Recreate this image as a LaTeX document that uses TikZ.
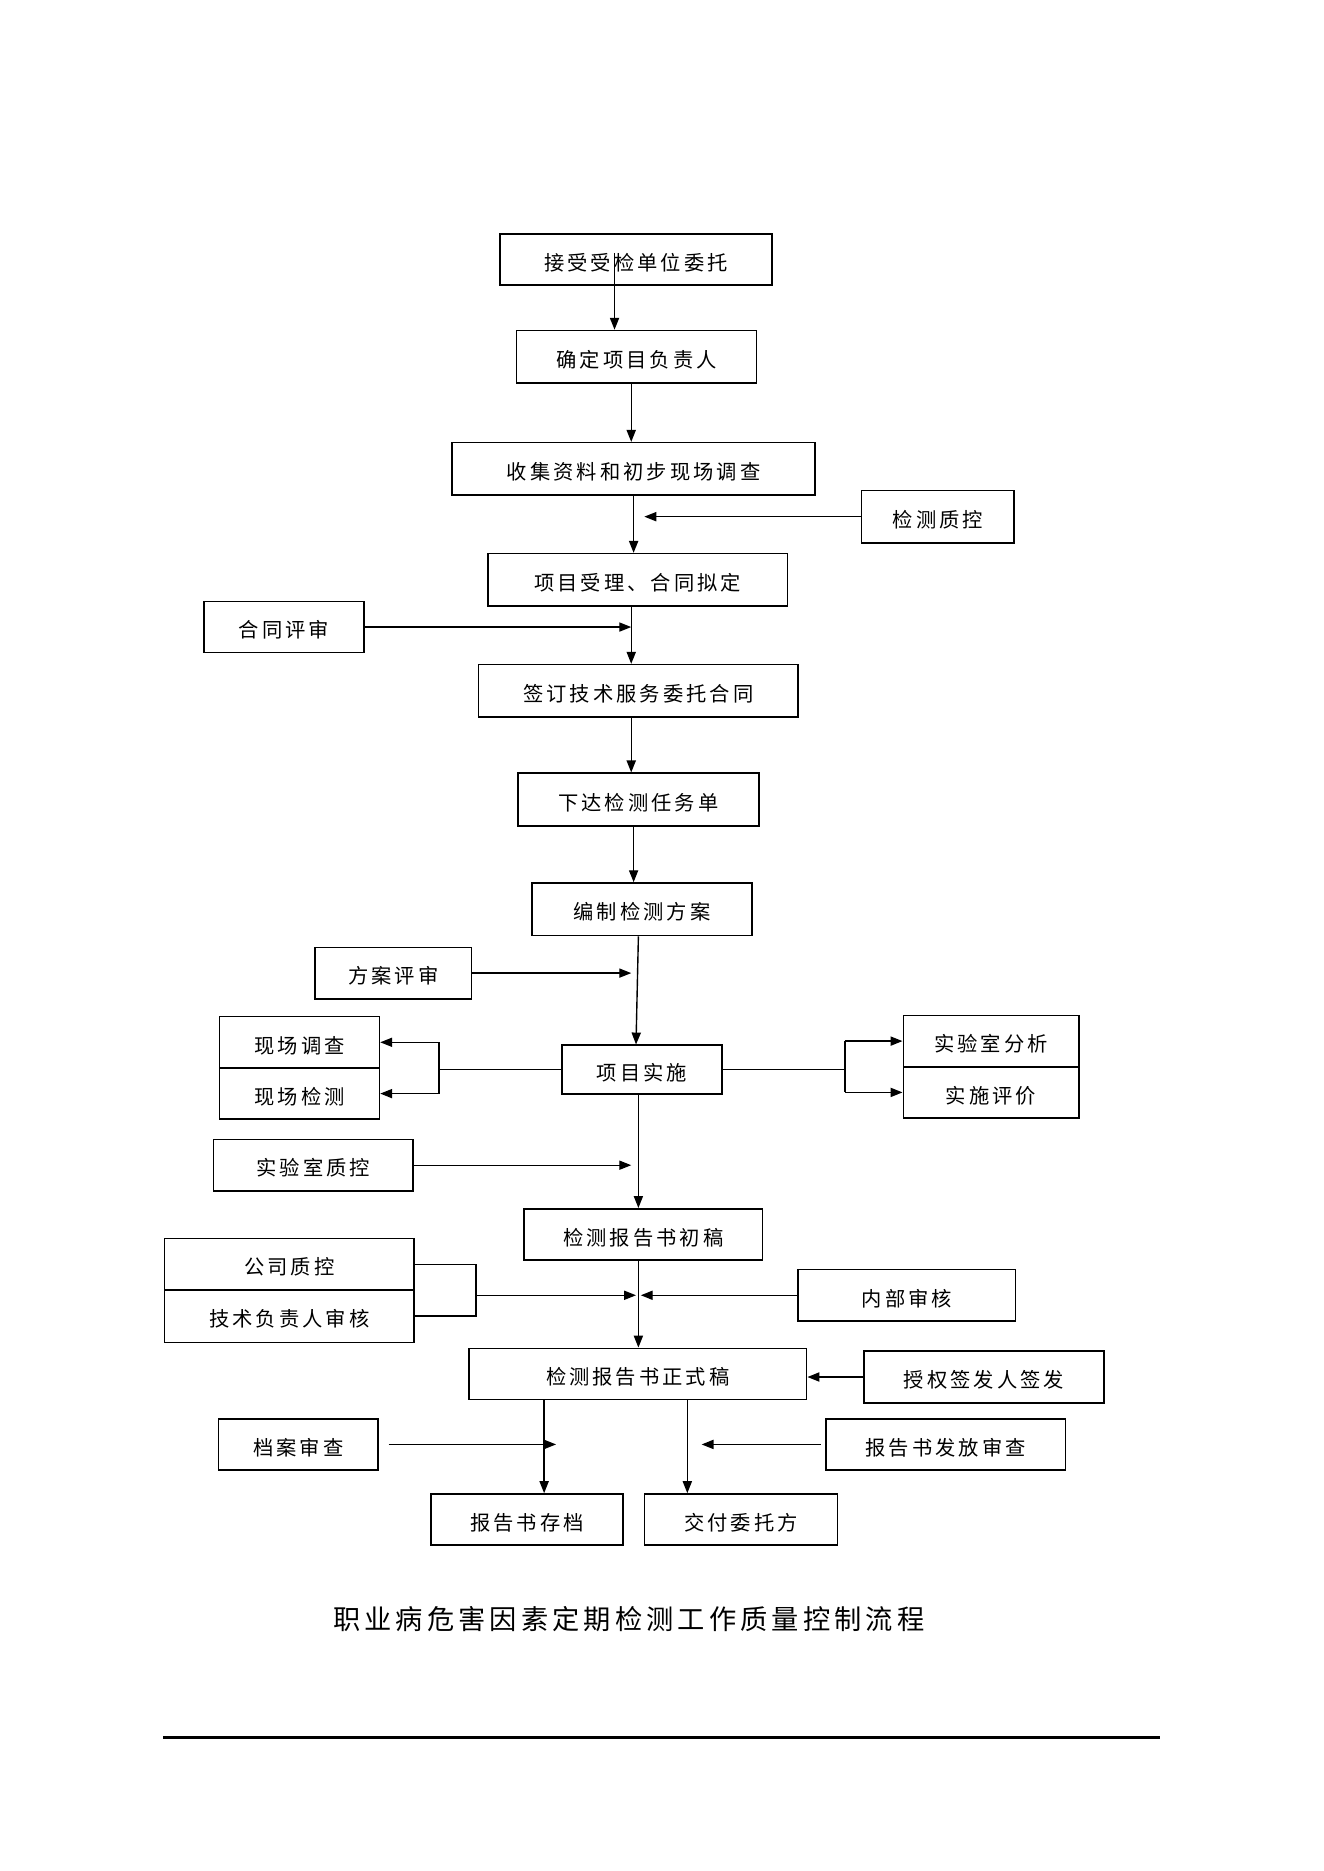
\documentclass[tikz,border=0pt]{standalone}
\usepackage{fontspec}
\newfontfamily\cjk{Noto Sans CJK SC}[LetterSpace=15]
\usetikzlibrary{arrows.meta,positioning}
\tikzset{
  box/.style={draw=black, line width=0.8pt, inner sep=0pt, text height=12pt, text depth=1.2pt,
    font=\cjk\fontsize{10.2}{12}\selectfont},
  wh/.style 2 args={minimum width=#1*0.6pt, minimum height=#2*0.6pt},
  arr/.style={line width=0.7pt, -{Triangle[length=6pt,width=4.6pt]}},
  ln/.style={line width=0.7pt},
}
\begin{document}
\begin{tikzpicture}[x=0.6pt,y=-0.6pt]
\useasboundingbox (0,0) rectangle (1109,1568);
% boxes
\node[box,wh={228}{43}] (b1) at (533,217.5) {接受受检单位委托};
\node[box,wh={201}{44}] (b2) at (533.5,299) {确定项目负责人};
\node[box,wh={304}{44}] (b3) at (531,393) {收集资料和初步现场调查};
\node[box,wh={128}{44}] (qc) at (786,433) {检测质控};
\node[box,wh={251}{44}] (b4) at (534.5,486) {项目受理、合同拟定};
\node[box,wh={134}{43}] (ht) at (238,525.5) {合同评审};
\node[box,wh={268}{44}] (b5) at (535,579) {签订技术服务委托合同};
\node[box,wh={202}{44}] (b6) at (535,670) {下达检测任务单};
\node[box,wh={184}{44}] (b7) at (538,762) {编制检测方案};
\node[box,wh={131}{43}] (fa) at (329.5,815.5) {方案评审};
\node[box,wh={134}{41}] (ss) at (538,896.5) {项目实施};
\node[box,wh={134}{43}] (xd) at (251,873.5) {现场调查};
\node[box,wh={134}{43}] (xj) at (251,916.5) {现场检测};
\node[box,wh={147}{43}] (sy) at (830.5,872.5) {实验室分析};
\node[box,wh={147}{43}] (sp) at (830.5,915.5) {实施评价};
\node[box,wh={167}{43}] (zk) at (262.5,976.5) {实验室质控};
\node[box,wh={200}{43}] (cg) at (539,1034.5) {检测报告书初稿};
\node[box,wh={209}{43}] (gs) at (242.5,1059.5) {公司质控};
\node[box,wh={209}{44}] (js) at (242.5,1103) {技术负责人审核};
\node[box,wh={182}{43}] (nb) at (760,1085.5) {内部审核};
\node[box,wh={283}{43}] (zs) at (534.5,1151.5) {检测报告书正式稿};
\node[box,wh={201}{44}] (sq) at (824.5,1154) {授权签发人签发};
\node[box,wh={134}{43}] (da) at (250,1210.5) {档案审查};
\node[box,wh={201}{43}] (ff) at (792.5,1210.5) {报告书发放审查};
\node[box,wh={161}{43}] (cd) at (441.5,1273.5) {报告书存档};
\node[box,wh={162}{43}] (jf) at (621,1273.5) {交付委托方};
% title
\node[font=\cjk\fontsize{13.7}{16}\selectfont, inner sep=0pt] (title) at (527,1357) {职业病危害因素定期检测工作质量控制流程};
% helper x-positions
\coordinate (c1) at (515,212);
\coordinate (x529) at (529,0);
\coordinate (x531) at (531,0);
\coordinate (x533) at (533,0);
\coordinate (x535) at (535,0);
\coordinate (x537) at (537,0);
\coordinate (x540) at (540,0);
\coordinate (x368) at (368,0);
\coordinate (x399) at (399,0);
\coordinate (x708) at (708,0);
\coordinate (x456) at (456,0);
\coordinate (x466) at (466,0);
\coordinate (x576) at (576,0);
\coordinate (x588) at (588,0);
% main column
\draw[arr] (c1) -- (c1 |- b2.north);
\draw[arr] (x529 |- b2.south) -- (x529 |- b3.north);
\draw[arr] (x531 |- b3.south) -- (x531 |- b4.north);
\draw[arr] (qc.west) -- (x540 |- qc.west);
\draw[arr] (x529 |- b4.south) -- (x529 |- b5.north);
\draw[arr] (ht.east) -- (x529 |- ht.east);
\draw[arr] (x529 |- b5.south) -- (x529 |- b6.north);
\draw[arr] (x531 |- b6.south) -- (x531 |- b7.north);
\draw[arr] (x535 |- b7.south) -- (x533 |- ss.north);
\draw[arr] (fa.east) -- (x529 |- fa.east);
% left branch of 项目实施
\draw[ln] (ss.west) -- (x368 |- ss.west);
\draw[ln] (x368 |- xd.east) -- (x368 |- xj.east);
\draw[arr] (x368 |- xd.east) -- (xd.east);
\draw[arr] (x368 |- xj.east) -- (xj.east);
% right branch
\draw[ln] (ss.east) -- (x708 |- ss.east);
\draw[ln] (x708 |- sy.west) -- (x708 |- sp.west);
\draw[arr] (x708 |- sy.west) -- (sy.west);
\draw[arr] (x708 |- sp.west) -- (sp.west);
% to first draft
\draw[arr] (x535 |- ss.south) -- (x535 |- cg.north);
\draw[arr] (zk.east) -- (x529 |- zk.east);
% to final
\draw[arr] (x535 |- cg.south) -- (x535 |- zs.north);
\draw[ln] (gs.east) -- (x399 |- gs.east) -- (x399 |- js.east) -- (js.east);
\draw[arr] (x399 |- nb.west) -- (x533 |- nb.west);
\draw[arr] (nb.west) -- (x537 |- nb.west);
\draw[arr] (sq.west) -- (zs.east |- sq.west);
% bottom
\draw[arr] (x456 |- zs.south) -- (x456 |- cd.north);
\draw[arr] (x576 |- zs.south) -- (x576 |- jf.north);
\draw[arr] ([xshift=4.8pt]da.east) -- (x466 |- da.east);
\draw[arr] ([xshift=-2pt]ff.west) -- (x588 |- ff.west);
% footer rule
\draw[line width=1.2pt] (137,1456) -- (972,1456);
\end{tikzpicture}
\end{document}
